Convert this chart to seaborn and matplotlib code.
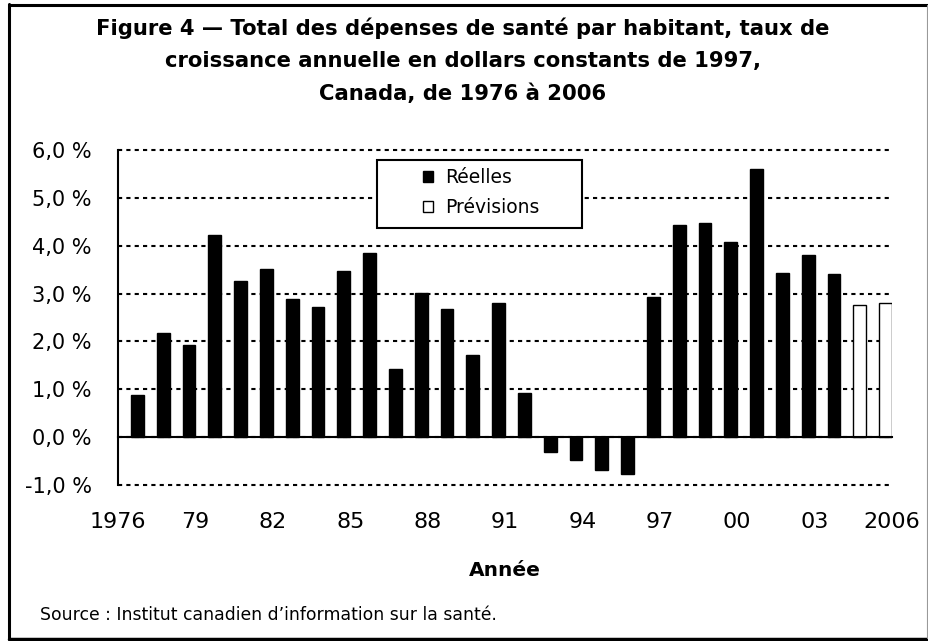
import numpy as np
import pandas as pd
import matplotlib
matplotlib.use('Agg')
import matplotlib.pyplot as plt
from matplotlib.patches import Patch, Rectangle
from matplotlib.lines import Line2D
import seaborn as sns

# growth rate of per-capita health spending, constant 1997 dollars (%)
years = list(range(1977, 2007))
growth = [0.88, 2.17, 1.93, 4.22, 3.26, 3.51, 2.88, 2.72, 3.47, 3.84,
          1.42, 3.01, 2.67, 1.72, 2.81, 0.93, -0.31, -0.48, -0.69, -0.77,
          2.93, 4.44, 4.48, 4.07, 5.61, 3.44, 3.81, 3.40, 2.76, 2.81]
kind = ['Réelles'] * 28 + ['Prévisions'] * 2

tick_years = list(range(1976, 2007, 3))
tick_labels = ['1976', '79', '82', '85', '88', '91', '94', '97', '00', '03', '2006']
y_ticks = [-1, 0, 1, 2, 3, 4, 5, 6]
y_labels = ['{:.1f} %'.format(v).replace('.', ',') for v in y_ticks]

colors = {'Réelles': 'black', 'Prévisions': 'white'}

df = pd.DataFrame({'annee': years, 'taux': growth, 'type': kind})

sns.set_style('white')
plt.rcParams['font.family'] = ['DejaVu Sans']
plt.rcParams['text.color'] = 'black'
plt.rcParams['axes.labelcolor'] = 'black'
plt.rcParams['xtick.color'] = 'black'
plt.rcParams['ytick.color'] = 'black'

W, H = 929, 641
fig = plt.figure(figsize=(W / 100, H / 100), dpi=100)
ax = fig.add_axes([118 / W, 1 - 485 / H, 774 / W, 335 / H])

sns.barplot(data=df, x='annee', y='taux', hue='type', palette=colors,
            native_scale=True, width=0.5, dodge=False, errorbar=None,
            edgecolor='black', linewidth=1, legend=False, ax=ax)
# each bar sits just left of its year tick
for p in ax.patches:
    p.set_x(p.get_x() - p.get_width() / 2)

ax.set_xlim(1976, 2006)
ax.set_ylim(-1, 6)
ax.set_xticks(tick_years, labels=tick_labels)
ax.set_xticks(range(1976, 2007), minor=True)
ax.set_yticks(y_ticks, labels=y_labels)

ax.yaxis.grid(True, color='black', linestyle=(0, (2, 2)), linewidth=1.5)
ax.xaxis.grid(False)
ax.set_axisbelow(True)
for gl in ax.get_ygridlines():
    gl.set_clip_on(False)

for s in ['top', 'right']:
    ax.spines[s].set_visible(False)
ax.spines['left'].set_linewidth(1.5)
ax.spines['left'].set_color('black')
ax.spines['bottom'].set_linewidth(1.5)
ax.spines['bottom'].set_color('black')
ax.spines['bottom'].set_position(('data', 0))

ax.tick_params(axis='x', which='both', direction='out', length=6, width=1.5,
               color='black', pad=48, labelsize=16)
ax.tick_params(axis='y', direction='out', length=6, width=1.5,
               color='black', pad=13, labelsize=15)
ax.set_xlabel('Année', fontsize=14.5, fontweight='bold', labelpad=21)
ax.set_ylabel('')

# legend box
ax.add_patch(Rectangle((0.3346, 0.7672), 0.2649, 0.2029, transform=ax.transAxes,
                       facecolor='white', edgecolor='black', linewidth=1.5,
                       zorder=2.5))
handles = [Patch(facecolor=colors[k], edgecolor='black', linewidth=1, label=k)
           for k in ['Réelles', 'Prévisions']]
ax.legend(handles=handles, loc='upper left', bbox_to_anchor=(0.394, 0.946),
          frameon=False, fontsize=13.5, borderpad=0, borderaxespad=0,
          handlelength=0.55, handleheight=0.55, handletextpad=0.65,
          labelspacing=0.6)

# title
title = ['Figure 4 — Total des dépenses de santé par habitant, taux de',
         'croissance annuelle en dollars constants de 1997,',
         'Canada, de 1976 à 2006']
for i, line in enumerate(title):
    fig.text(463 / W, 1 - (28 + 33 * i) / H, line, ha='center', va='center',
             fontsize=15.2, fontweight='bold')

fig.text(40 / W, 1 - 615 / H, 'Source : Institut canadien d’information sur la santé.',
         ha='left', va='center', fontsize=12.4)

# outer frame
fig.add_artist(Line2D([9.5 / W, 9.5 / W], [1 - 4 / H, 1 - 639 / H], color='black', lw=2.2))
fig.add_artist(Line2D([8.5 / W, 928 / W], [1 - 5 / H, 1 - 5 / H], color='black', lw=2.2))
fig.add_artist(Line2D([8.5 / W, 928 / W], [1 - 638.5 / H, 1 - 638.5 / H], color='black', lw=2.5))
fig.add_artist(Line2D([927.5 / W, 927.5 / W], [1 - 5 / H, 1 - 638 / H], color='#999999', lw=0.8))

plt.savefig('out.png', dpi=100)
